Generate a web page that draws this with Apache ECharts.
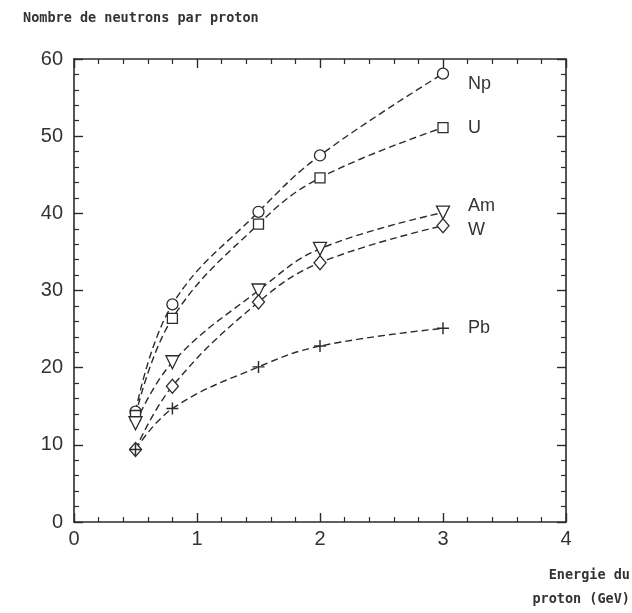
<!DOCTYPE html>
<html>
<head>
<meta charset="utf-8">
<script src="https://cdn.jsdelivr.net/npm/echarts@6/dist/echarts.min.js"></script>
<style>html,body{margin:0;padding:0;background:#fff}#c{width:632px;height:613px}</style>
</head>
<body>
<div id="c"></div>
<script>
const energies = [0.5, 0.8, 1.5, 2.0, 3.0];
const np = [14.3, 28.2, 40.2, 47.5, 58.1];
const u  = [13.8, 26.4, 38.6, 44.6, 51.1];
const am = [12.8, 20.7, 30.0, 35.4, 40.1];
const w  = [9.4, 17.6, 28.5, 33.6, 38.4];
const pb = [9.4, 14.7, 20.1, 22.8, 25.1];
const seriesNames = ['Np', 'U', 'Am', 'W', 'Pb'];
const yTicks = [0, 10, 20, 30, 40, 50, 60];
const xTicks = [0, 1, 2, 3, 4];

const ink = '#2b2b2b';
const plusPath = 'path://M4.4,0h1.2v4.4h4.4v1.2h-4.4v4.4h-1.2v-4.4h-4.4v-1.2h4.4z';
const specs = [
  {data: np, symbol: 'circle', size: 11, rot: 0, off: [17, 10], fill: '#fff'},
  {data: u, symbol: 'rect', size: 10, rot: 0, off: [17, 0], fill: '#fff'},
  {data: am, symbol: 'triangle', size: 13, rot: 180, off: [17, -7], fill: '#fff'},
  {data: w, symbol: 'diamond', size: [12, 14], rot: 0, off: [17, 4], fill: '#fff'},
  {data: pb, symbol: plusPath, size: 12, rot: 0, off: [17, 0], fill: ink}
];

const chart = echarts.init(document.getElementById('c'));
const axisCommon = {
  type: 'value',
  axisLine: {show: true, onZero: false, lineStyle: {color: ink, width: 1.6}},
  axisTick: {show: true, inside: true, length: 9, lineStyle: {color: ink, width: 1.4}},
  minorTick: {show: true, splitNumber: 5, length: 5, lineStyle: {color: ink, width: 1.2}},
  splitLine: {show: false},
  minorSplitLine: {show: false}
};

chart.setOption({
  animation: false,
  backgroundColor: '#fff',
  title: {
    text: 'Nombre de neutrons par proton',
    left: 18, top: 6,
    textStyle: {fontFamily: 'DejaVu Sans Mono', fontWeight: 'bold', fontSize: 13.5, color: '#333'}
  },
  graphic: [{
    type: 'text', x: 630, y: 563,
    style: {
      text: 'Energie du\nproton (GeV)', textAlign: 'right',
      font: 'bold 13.5px "DejaVu Sans Mono"', fill: '#333', lineHeight: 24
    }
  }],
  grid: {left: 74, right: 66, top: 59, bottom: 91},
  xAxis: [
    Object.assign({}, axisCommon, {
      position: 'bottom', min: xTicks[0], max: xTicks[xTicks.length - 1], interval: 1,
      axisLabel: {show: true, margin: 7, color: '#333', fontSize: 20, fontFamily: 'Liberation Sans'}
    }),
    Object.assign({}, axisCommon, {
      position: 'top', min: xTicks[0], max: xTicks[xTicks.length - 1], interval: 1,
      axisLabel: {show: false}
    })
  ],
  yAxis: [
    Object.assign({}, axisCommon, {
      position: 'left', min: yTicks[0], max: yTicks[yTicks.length - 1], interval: 10,
      axisLabel: {show: true, margin: 11, color: '#333', fontSize: 20, fontFamily: 'Liberation Sans'}
    }),
    Object.assign({}, axisCommon, {
      position: 'right', min: yTicks[0], max: yTicks[yTicks.length - 1], interval: 10,
      axisLabel: {show: false}
    })
  ],
  series: specs.map((s, i) => ({
    name: seriesNames[i],
    type: 'line',
    xAxisIndex: 0, yAxisIndex: 0,
    smooth: 0.4,
    data: energies.map((e, j) => [e, s.data[j]]),
    symbol: s.symbol,
    symbolSize: s.size,
    symbolRotate: s.rot,
    showAllSymbol: true,
    lineStyle: {color: ink, width: 1.4, type: [7, 4]},
    itemStyle: {color: s.fill, borderColor: ink, borderWidth: i === 4 ? 0 : 1.3},
    z: 3,
    label: {show: false},
    endLabel: {
      show: true, formatter: seriesNames[i], offset: s.off,
      color: '#333', fontSize: 18, fontFamily: 'Liberation Sans'
    }
  }))
});
</script>
</body>
</html>
